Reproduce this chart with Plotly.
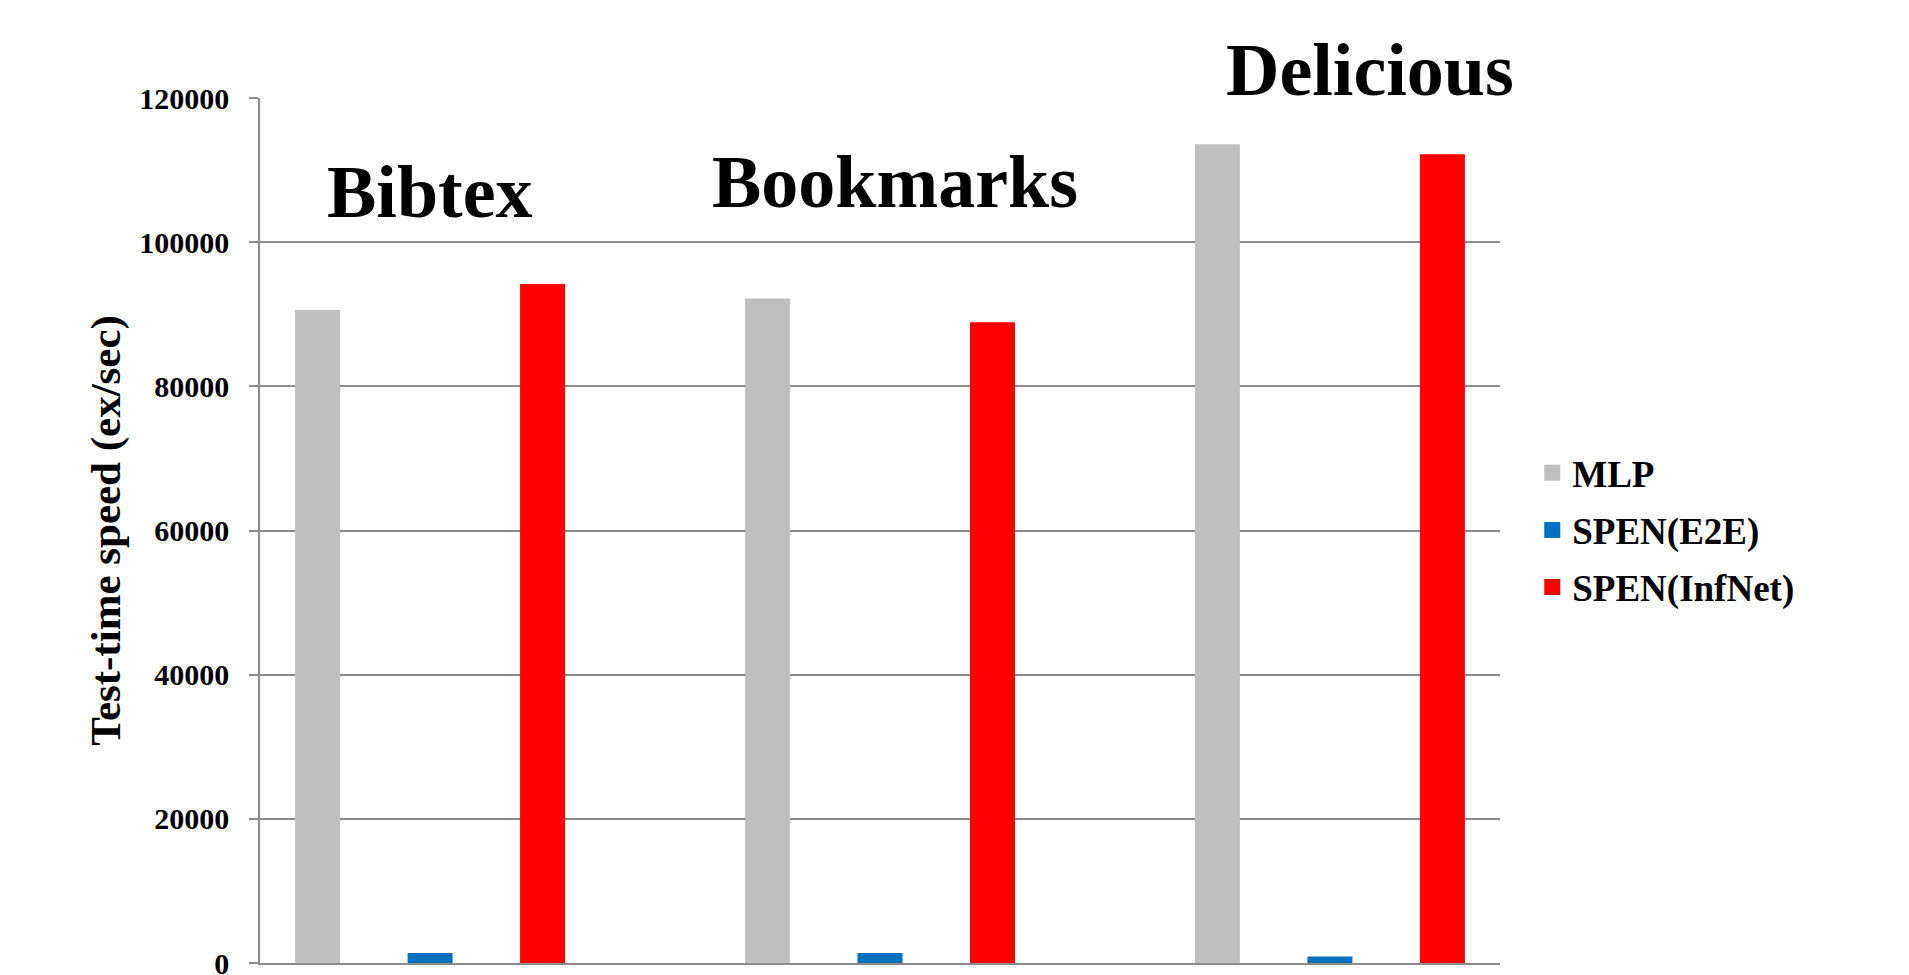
import plotly.graph_objects as go

# Datasets and measured test-time throughput (examples per second)
datasets = ["Bibtex", "Bookmarks", "Delicious"]
mlp = [90600, 92200, 113600]
spen_e2e = [1400, 1400, 900]
spen_infnet = [94200, 88900, 112200]

series_names = ["MLP", "SPEN(E2E)", "SPEN(InfNet)"]
series_colors = ["#BFBFBF", "#0070C0", "#FF0000"]

y_ticks = [0, 20000, 40000, 60000, 80000, 100000, 120000]

FONT = "Liberation Serif"
GRID = "#8C8C8C"

fig = go.Figure()
for name, vals, color in zip(series_names, [mlp, spen_e2e, spen_infnet], series_colors):
    fig.add_trace(go.Bar(
        x=datasets, y=vals, name=name, marker_color=color,
        marker_line_width=0, showlegend=False,
    ))

# Legend entries with larger square swatches
for name, color in zip(series_names, series_colors):
    fig.add_trace(go.Scatter(
        x=[None], y=[None], mode="markers", name=name, legendgroup=name,
        marker=dict(symbol="square", size=18, color=color, line_width=0),
        hoverinfo="skip",
    ))

# Dataset names drawn above each group
label_pos = {"Bibtex": (0.0, 0.891), "Bookmarks": (1.033, 0.903), "Delicious": (2.09, 1.032)}
for ds in datasets:
    px, py = label_pos[ds]
    fig.add_annotation(
        x=px, y=py, xref="x", yref="paper", text=ds, showarrow=False,
        font=dict(family=FONT, size=74, color="black", weight="bold"),
        xanchor="center", yanchor="middle",
    )

fig.update_layout(
    width=1909, height=975,
    margin=dict(l=260, r=409, t=97.5, b=11.5, autoexpand=False),
    paper_bgcolor="white", plot_bgcolor="white",
    barmode="group", bargap=0.25, bargroupgap=0.6,
    font=dict(family=FONT, color="black"),
    showlegend=True,
    legend=dict(
        x=1.026, xanchor="left", y=0.602, yanchor="top",
        font=dict(family=FONT, size=37, color="black", weight="bold"),
        traceorder="grouped", tracegroupgap=6, itemsizing="trace",
        bgcolor="rgba(0,0,0,0)",
    ),
)

fig.update_xaxes(
    range=[-0.378, 2.378], showticklabels=False, ticks="",
    showline=True, linecolor=GRID, linewidth=2, showgrid=False, zeroline=False,
)
fig.update_yaxes(
    range=[0, 120000], tickvals=y_ticks, ticktext=[str(v) for v in y_ticks],
    showgrid=True, gridcolor=GRID, gridwidth=1.5,
    showline=True, linecolor=GRID, linewidth=1.5,
    ticks="outside", ticklen=9, tickcolor=GRID, tickwidth=1.5,
    ticklabelstandoff=14, ticklabeloverflow="allow",
    tickfont=dict(family=FONT, size=30, color="black", weight="bold"),
    zeroline=False,
    title=dict(
        text="Test-time speed (ex/sec)", standoff=5,
        font=dict(family=FONT, size=43, color="black", weight="bold"),
    ),
)

fig.write_html("out.html")
